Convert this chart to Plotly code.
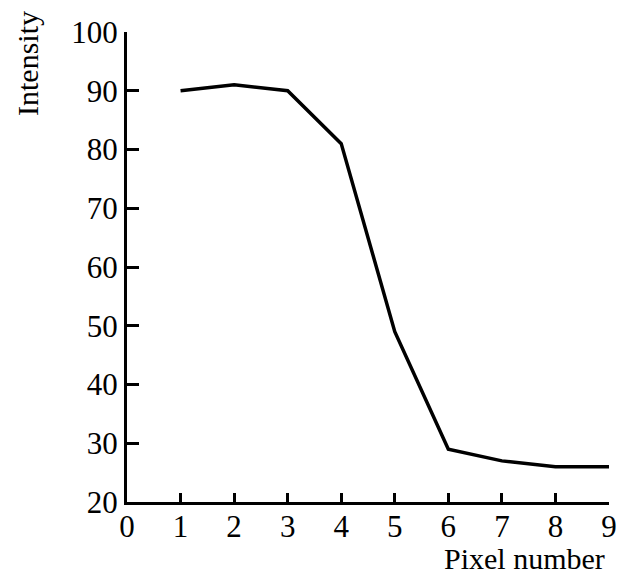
import plotly.graph_objects as go

pixel_number = [1, 2, 3, 4, 5, 6, 7, 8, 9]
intensity = [90, 91, 90, 81, 49, 29, 27, 26, 26]
x_ticks = [0, 1, 2, 3, 4, 5, 6, 7, 8, 9]
y_ticks = [20, 30, 40, 50, 60, 70, 80, 90, 100]

font_family = "Liberation Serif"

fig = go.Figure()
fig.add_trace(go.Scatter(
    x=pixel_number, y=intensity, mode="lines",
    line=dict(color="black", width=3.5),
    showlegend=False, hoverinfo="skip",
))

# page body has an 8px default margin; the figure is sized to fit the window
fig.update_layout(
    width=626, height=566,
    margin=dict(l=119, r=25, t=24, b=72, autoexpand=False),
    paper_bgcolor="white", plot_bgcolor="white",
    font=dict(family=font_family, size=31, color="black"),
    xaxis=dict(
        range=[0, 9], tickvals=x_ticks, ticks="inside", ticklen=9, tickwidth=2.5,
        tickcolor="black", showline=True, linecolor="black", linewidth=3,
        showgrid=False, zeroline=False, automargin=False, ticklabelstandoff=-5,
        tickfont=dict(size=31, family=font_family),
    ),
    yaxis=dict(
        range=[20, 100], tickvals=y_ticks, ticks="inside", ticklen=12, tickwidth=2.5,
        tickcolor="black", showline=True, linecolor="black", linewidth=3,
        showgrid=False, zeroline=False, automargin=False,
        tickfont=dict(size=31, family=font_family),
    ),
    annotations=[
        dict(text="Intensity", xref="paper", yref="paper", x=-0.2075, y=0.934,
             xanchor="center", yanchor="middle", textangle=-90, showarrow=False,
             font=dict(size=30, family=font_family)),
        dict(text="Pixel number", xref="paper", yref="paper", x=0.996, y=-0.121,
             xanchor="right", yanchor="middle", showarrow=False,
             font=dict(size=30, family=font_family)),
    ],
)

fig.write_html("out.html")
